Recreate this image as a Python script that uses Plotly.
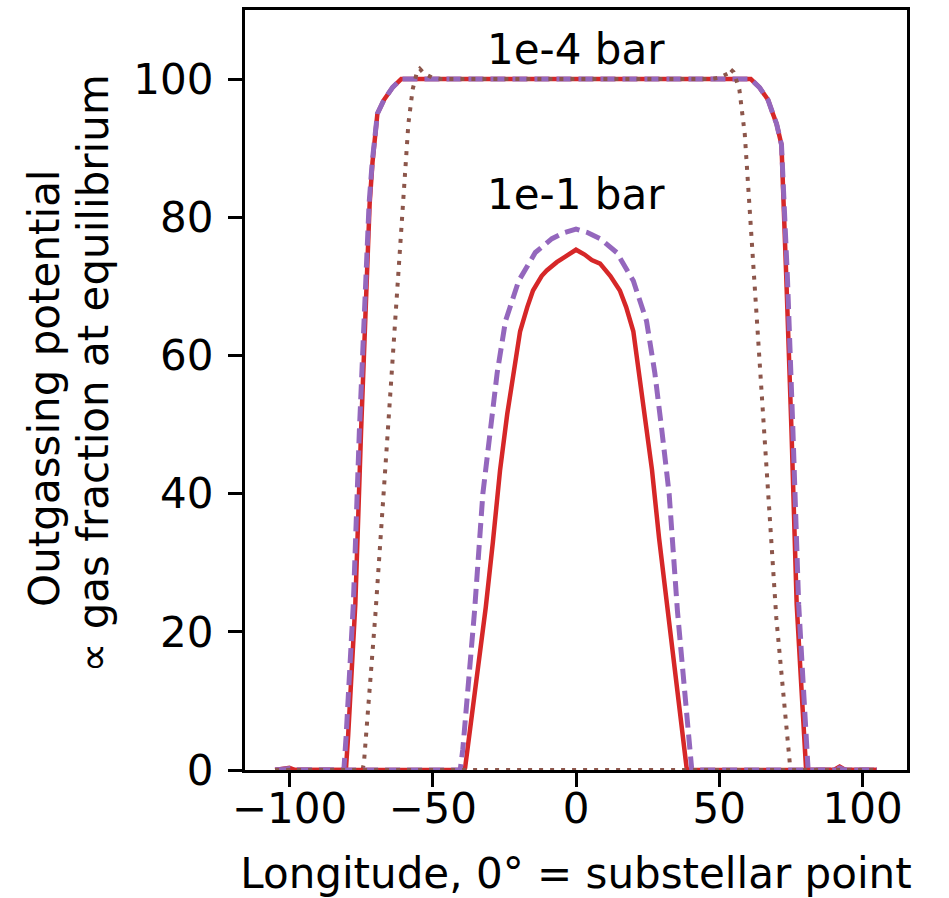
import plotly.graph_objects as go

# ---------------- data ----------------
# 1e-4 bar, solid red
lon_hi_red = [-105, -100, -98, -82, -80.3, -79.5, -78.5, -77, -75, -73.2, -72, -71, -70, -69.3, -67, -64, -61,
              61, 64, 67, 68.7, 70, 71.7, 72.7, 73.4, 75.2, 77, 78.5, 79.5, 80.3, 82, 90, 92, 94, 105]
frac_hi_red = [0, 0.3, 0, 0, 0, 5, 13, 24, 49, 70, 82, 88, 92.5, 95, 97, 98.8, 100,
               100, 98.8, 97, 95, 93.5, 90.5, 80, 71, 49, 24, 13, 5, 0, 0, 0, 0.5, 0, 0]

# 1e-4 bar, dashed purple
lon_hi_pur = [-105, -100, -98, -82, -81, -80.2, -79.2, -77.7, -75.6, -73.6, -72.2, -71.1, -70, -69.3, -67, -64, -61,
              61, 64, 67, 68.7, 70, 71.7, 72.9, 73.8, 75.7, 77.7, 79.2, 80.2, 81, 82, 90, 92, 94, 105]
frac_hi_pur = [0, 0.2, 0, 0, 0, 5, 13, 24, 49, 70, 82, 88, 92.5, 95, 97, 98.8, 100,
               100, 98.8, 97, 95, 93.5, 90.5, 80, 71, 49, 24, 13, 5, 0, 0, 0, 0.3, 0, 0]

# 1e-4 bar, dotted brown
lon_hi_brn = [-105, -74.5, -74, -70, -66, -62.3, -61.3, -60.2, -58.5, -57, -55.5, -54.5, -53, -50, -47,
              47, 50, 53, 53.7, 55, 57, 58.9, 60.5, 61.5, 62.4, 66, 69.9, 74.6, 75, 105]
frac_hi_brn = [0, 0, 1, 22.5, 47, 70.6, 75, 82.4, 93.5, 98.5, 101, 101.5, 100.8, 100.2, 100,
               100, 100.2, 100.8, 101.5, 101, 98.5, 92, 82, 75, 70.6, 46, 22, 1, 0, 0]

# 1e-1 bar, solid red
lon_lo_red = [-105, -39, -38.7, -37.5, -36, -34.5, -33, -31.5, -29, -26.5, -24, -21.3, -19.5, -17, -15, -12, -10.2,
              -6.7, -3, 0, 3, 5.5, 8.4, 9.5, 12, 15.3, 17.5, 20, 21.1, 24, 26.5, 29, 32.2, 34, 36, 38.6, 39, 105]
frac_lo_red = [0, 0, 0.3, 4, 9, 14, 19, 23.5, 33, 43.4, 51.5, 59.2, 63.5, 67, 69.4, 71.5, 72.3,
               73.5, 74.5, 75.3, 74.6, 73.8, 73.3, 72.7, 71.5, 69.4, 67, 63.5, 60, 51.5, 43.5, 33.5, 22.2, 15.5, 9, 0.3, 0, 0]

# 1e-1 bar, dashed purple
lon_lo_pur = [-105, -40.4, -39.5, -38.5, -37, -35.4, -32.5, -30, -27.5, -24.6, -20, -14.2, -8.4, -4, 0,
              4, 8.4, 14.2, 20, 24.6, 27.5, 30, 32.5, 35.4, 37, 38.5, 39.5, 40.4, 105]
frac_lo_pur = [0, 0, 3, 8, 15, 23, 40, 49, 57.5, 65, 70.8, 74.9, 76.9, 77.8, 78.3,
               77.8, 76.9, 74.9, 70.8, 65, 57.5, 49, 40, 23, 15, 8, 3, 0, 0]

# 1e-1 bar, dotted brown
lon_lo_brn = [-105, 105]
frac_lo_brn = [0, 0]

x_ticks = [-100, -50, 0, 50, 100]
y_ticks = [0, 20, 40, 60, 80, 100]

labels = ["1e-4 bar", "1e-1 bar"]
label_y = [104.3, 83.3]

y_title_lines = ["Outgassing potential", "∝ gas fraction at equilibrium"]
x_title = "Longitude, 0° = substellar point"

RED = "#d62728"
PURPLE = "#9467bd"
BROWN = "#8c564b"
FONT = "DejaVu Sans"
FS = 42

fig = go.Figure()

def add(x, y, color, width, dash):
    fig.add_trace(go.Scatter(x=x, y=y, mode="lines",
                             line=dict(color=color, width=width, dash=dash),
                             showlegend=False, hoverinfo="skip"))

add(lon_hi_red, frac_hi_red, RED, 4.5, "solid")
add(lon_hi_pur, frac_hi_pur, PURPLE, 5, "15px,7px")
add(lon_hi_brn, frac_hi_brn, BROWN, 4, "4px,7px")
add(lon_lo_red, frac_lo_red, RED, 4.5, "solid")
add(lon_lo_pur, frac_lo_pur, PURPLE, 5, "15px,7px")
add(lon_lo_brn, frac_lo_brn, BROWN, 4, "4px,7px")

for txt, yy in zip(labels, label_y):
    fig.add_annotation(x=0, y=yy, xref="x", yref="y", text=txt, showarrow=False,
                       xanchor="center", yanchor="middle",
                       font=dict(family=FONT, size=FS, color="black"))

# y-axis title, two centred lines (rotated)
for txt, px, py in zip(y_title_lines, [-0.303, -0.229], [0.502, 0.522]):
    fig.add_annotation(x=px, y=py, xref="paper", yref="paper", text=txt, showarrow=False,
                       textangle=-90, xanchor="center", yanchor="middle",
                       font=dict(family=FONT, size=FS, color="black"))

axis_common = dict(showline=True, linecolor="black", linewidth=3.3, mirror=True,
                   ticks="outside", ticklen=14, tickwidth=3.3, tickcolor="black",
                   showgrid=False, zeroline=False,
                   tickfont=dict(family=FONT, size=FS, color="black"))

fig.update_xaxes(range=[-115.5, 115.5], tickvals=x_ticks,
                 ticktext=[("\u2212" + str(abs(v))) if v < 0 else str(v) for v in x_ticks],
                 ticklabelstandoff=-15,
                 title=dict(text=x_title,
                            font=dict(family=FONT, size=FS, color="black"), standoff=30),
                 **axis_common)
fig.update_yaxes(range=[0, 110], tickvals=y_ticks, ticklabelstandoff=6, **axis_common)

fig.update_layout(width=949, height=898, plot_bgcolor="white", paper_bgcolor="white",
                  margin=dict(l=245, r=42, t=10, b=128, autoexpand=False),
                  font=dict(family=FONT, size=FS, color="black"))

fig.write_html("out.html", config={"displayModeBar": False},
               post_script="document.body.style.margin='0px';document.body.style.overflow='hidden';")
